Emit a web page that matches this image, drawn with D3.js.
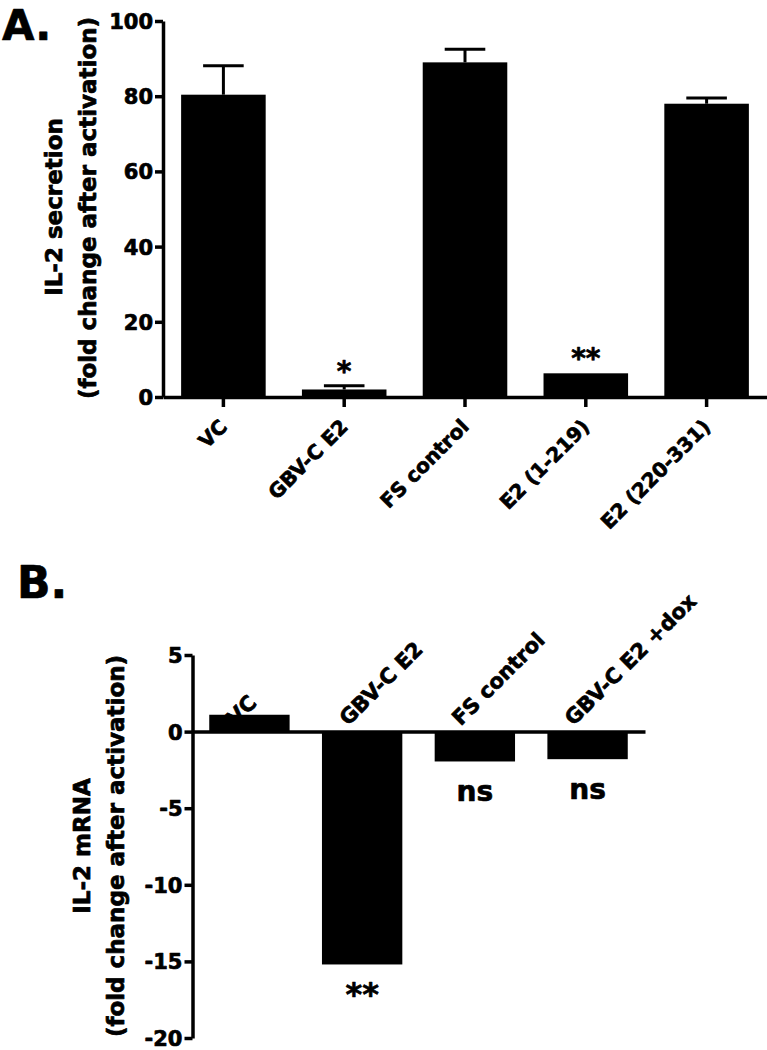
<!DOCTYPE html>
<html>
<head>
<meta charset="utf-8">
<script src="https://cdn.jsdelivr.net/npm/d3@7"></script>
<style>
  html, body { margin: 0; padding: 0; background: #fff; }
  svg { display: block; }
  text { font-family: "DejaVu Sans", sans-serif; font-weight: bold; fill: #000;
         stroke: #000; stroke-width: 0.7px; stroke-linejoin: round; }
</style>
</head>
<body>
<script>
// ---------- Panel A data ----------
const catsA  = ["VC", "GBV-C E2", "FS control", "E2 (1-219)", "E2 (220-331)"];
const valsA  = [80.4, 2.0, 89.0, 6.3, 78.0];
const errA   = [7.7, 1.0, 3.5, 0, 1.5];
const sigA   = ["", "*", "", "**", ""];
const ticksA = [0, 20, 40, 60, 80, 100];

// ---------- Panel B data ----------
const catsB  = ["VC", "GBV-C E2", "FS control", "GBV-C E2 +dox"];
const valsB  = [1.1, -15.2, -1.95, -1.8];
const sigB   = ["", "**", "ns", "ns"];
const ticksB = [5, 0, -5, -10, -15, -20];

const W = 767, H = 1050;
const svg = d3.select("body").append("svg").attr("width", W).attr("height", H);
const fmt = d => String(d);

function styleAxis(g) {
  g.selectAll("path.domain").attr("stroke", "#000").attr("stroke-width", 3.5);
  g.selectAll(".tick line").attr("stroke", "#000").attr("stroke-width", 3.5);
  g.selectAll("text").attr("font-family", "DejaVu Sans").attr("font-weight", "bold")
    .attr("fill", "#000").attr("stroke", "#000").attr("stroke-width", 0.7);
}

// ================= Panel A =================
const gA = svg.append("g");
const yA = d3.scaleLinear().domain([0, 100]).range([397, 21]);
const xA = d3.scaleBand().domain(catsA).range([163, 767]).paddingInner(0.3).paddingOuter(0.15);

gA.selectAll("rect.bar").data(catsA).join("rect")
  .attr("x", d => xA(d))
  .attr("width", xA.bandwidth())
  .attr("y", (d, i) => yA(valsA[i]))
  .attr("height", (d, i) => yA(0) - yA(valsA[i]))
  .attr("fill", "#000");

const capA = xA.bandwidth() * 0.48;
catsA.forEach((c, i) => {
  if (!errA[i]) return;
  const cx = xA(c) + xA.bandwidth() / 2;
  gA.append("line").attr("x1", cx).attr("x2", cx)
    .attr("y1", yA(valsA[i])).attr("y2", yA(valsA[i] + errA[i]))
    .attr("stroke", "#000").attr("stroke-width", 3);
  gA.append("line").attr("x1", cx - capA / 2).attr("x2", cx + capA / 2)
    .attr("y1", yA(valsA[i] + errA[i])).attr("y2", yA(valsA[i] + errA[i]))
    .attr("stroke", "#000").attr("stroke-width", 3);
});

catsA.forEach((c, i) => {
  if (!sigA[i]) return;
  gA.append("text")
    .attr("x", xA(c) + xA.bandwidth() / 2)
    .attr("y", yA(valsA[i] + errA[i]) - 5)
    .attr("text-anchor", "middle")
    .attr("font-size", 28)
    .text(sigA[i]);
});

const yAxA = gA.append("g").attr("transform", "translate(163,0)")
  .call(d3.axisLeft(yA).tickValues(ticksA).tickFormat(fmt).tickSize(8).tickSizeOuter(0).tickPadding(2));
styleAxis(yAxA);
yAxA.selectAll("text").attr("font-size", 21).attr("dy", "0.36em");

const xAxA = gA.append("g").attr("transform", "translate(0,397)")
  .call(d3.axisBottom(xA).tickSize(10).tickSizeOuter(0));
styleAxis(xAxA);
xAxA.selectAll("text")
  .attr("font-size", 20)
  .attr("text-anchor", "end")
  .attr("x", 0).attr("y", 0).attr("dy", 0)
  .attr("transform", "translate(5,31) rotate(-45)");

gA.append("text").attr("transform", "translate(62,207) rotate(-90)")
  .attr("text-anchor", "middle").attr("font-size", 23).text("IL-2 secretion");
gA.append("text").attr("transform", "translate(96,208) rotate(-90)")
  .attr("text-anchor", "middle").attr("font-size", 23).text("(fold change after activation)");

svg.append("text").attr("x", 2).attr("y", 40).attr("font-size", 42).text("A.");

// ================= Panel B =================
const gB = svg.append("g");
const yB = d3.scaleLinear().domain([-20, 5]).range([1038, 655]);
const xB = d3.scaleBand().domain(catsB).range([192, 645]).paddingInner(0.287).paddingOuter(0.153);

gB.selectAll("rect.bar").data(catsB).join("rect")
  .attr("x", d => xB(d))
  .attr("width", xB.bandwidth())
  .attr("y", (d, i) => yB(Math.max(valsB[i], 0)))
  .attr("height", (d, i) => Math.abs(yB(valsB[i]) - yB(0)))
  .attr("fill", "#000");

catsB.forEach((c, i) => {
  if (!sigB[i]) return;
  gB.append("text")
    .attr("x", xB(c) + xB.bandwidth() / 2)
    .attr("y", sigB[i] === "ns" ? yB(valsB[i]) + 40 : yB(valsB[i]) + 41)
    .attr("text-anchor", "middle")
    .attr("font-size", sigB[i] === "ns" ? 28 : 32)
    .text(sigB[i]);
});

const yAxB = gB.append("g").attr("transform", "translate(192.5,0)")
  .call(d3.axisLeft(yB).tickValues(ticksB).tickFormat(fmt).tickSize(8).tickSizeOuter(0).tickPadding(2));
styleAxis(yAxB);
yAxB.selectAll("text").attr("font-size", 21).attr("dy", "0.36em");

const xAxB = gB.append("g").attr("transform", `translate(0,${yB(0)})`)
  .call(d3.axisBottom(xB).tickSize(0).tickSizeOuter(0));
styleAxis(xAxB);
xAxB.selectAll("text")
  .attr("font-size", 21)
  .attr("text-anchor", "start")
  .attr("x", 0).attr("y", 0).attr("dy", 0)
  .attr("transform", "translate(-14,-5) rotate(-45)");

gB.append("text").attr("transform", "translate(90,846) rotate(-90)")
  .attr("text-anchor", "middle").attr("font-size", 23).text("IL-2 mRNA");
gB.append("text").attr("transform", "translate(124,846) rotate(-90)")
  .attr("text-anchor", "middle").attr("font-size", 23).text("(fold change after activation)");

svg.append("text").attr("x", 17).attr("y", 598).attr("font-size", 44).text("B.");
</script>
</body>
</html>
